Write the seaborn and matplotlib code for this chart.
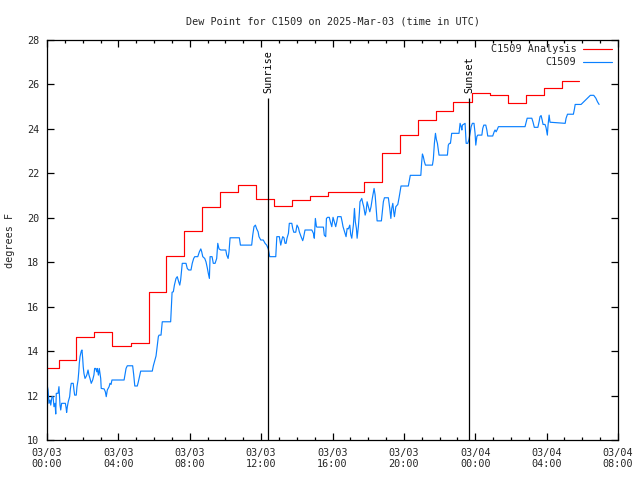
import matplotlib
matplotlib.use("Agg")
import matplotlib.pyplot as plt
import seaborn as sns
import pandas as pd

# ---------------- data ----------------
title = "Dew Point for C1509 on 2025-Mar-03 (time in UTC)"
ylabel = "degrees F"
series_names = ["C1509 Analysis", "C1509"]

# hours since 03/03 00:00 UTC
red_hours = [0, 0.65, 1.65, 2.66, 3.67, 4.69, 5.7, 6.66, 7.67, 8.68, 9.7, 10.7, 11.7,
             12.72, 13.72, 14.74, 15.77, 16.77, 17.77, 18.76, 19.79, 20.78, 21.8, 22.77,
             23.8, 24.83, 25.86, 26.85, 27.86, 28.88, 29.84]
red_values = [13.23, 13.58, 14.62, 14.84, 14.23, 14.35, 16.64, 18.27, 19.39, 20.47, 21.15,
              21.47, 20.83, 20.53, 20.8, 20.98, 21.15, 21.15, 21.6, 22.9, 23.72, 24.39,
              24.79, 25.2, 25.6, 25.51, 25.15, 25.51, 25.84, 26.17, 26.17]

blue_hours = [0.00, 0.06, 0.11, 0.17, 0.21, 0.28, 0.34, 0.39, 0.45, 0.49, 0.52, 0.62, 0.67,
              0.73, 0.77, 0.82, 1.03, 1.07, 1.10, 1.14, 1.19, 1.27, 1.31, 1.36, 1.47, 1.51,
              1.55, 1.64, 1.68, 1.74, 1.78, 1.81, 1.85, 1.89, 1.92, 1.96, 2.00, 2.03, 2.07,
              2.13, 2.19, 2.24, 2.30, 2.35, 2.41, 2.48, 2.56, 2.63, 2.67, 2.73, 2.79, 2.82,
              2.88, 2.93, 3.01, 3.04, 3.20, 3.27, 3.32, 3.38, 3.48, 3.53, 3.59, 3.64, 4.32,
              4.37, 4.43, 4.50, 4.80, 4.86, 4.92, 5.06, 5.12, 5.20, 5.25, 5.90, 5.96, 6.05,
              6.11, 6.18, 6.24, 6.28, 6.39, 6.46, 6.93, 6.97, 7.01, 7.08, 7.14, 7.23, 7.30,
              7.38, 7.44, 7.49, 7.55, 7.58, 7.79, 7.86, 7.94, 8.07, 8.14, 8.22, 8.28, 8.45,
              8.54, 8.62, 8.67, 8.73, 8.84, 8.91, 8.99, 9.04, 9.10, 9.14, 9.25, 9.32, 9.42,
              9.51, 9.57, 9.64, 9.74, 10.02, 10.07, 10.15, 10.20, 10.26, 10.78, 10.84, 11.47,
              11.53, 11.60, 11.68, 11.75, 11.83, 11.88, 11.98, 12.12, 12.22, 12.31, 12.40,
              12.48, 12.82, 12.88, 13.02, 13.10, 13.16, 13.21, 13.28, 13.34, 13.40, 13.45,
              13.53, 13.58, 13.72, 13.77, 13.83, 13.94, 14.01, 14.09, 14.14, 14.24, 14.33,
              14.37, 14.46, 14.84, 14.93, 14.98, 15.04, 15.10, 15.13, 15.49, 15.54, 15.62,
              15.66, 15.73, 15.82, 15.88, 15.96, 16.03, 16.10, 16.18, 16.24, 16.29, 16.48,
              16.54, 16.59, 16.70, 16.76, 16.82, 16.89, 16.97, 17.02, 17.08, 17.17, 17.23,
              17.28, 17.34, 17.38, 17.45, 17.51, 17.54, 17.64, 17.70, 17.75, 17.83, 17.88,
              17.94, 18.01, 18.09, 18.16, 18.23, 18.33, 18.39, 18.44, 18.50, 18.74, 18.79,
              18.85, 18.91, 19.13, 19.21, 19.27, 19.32, 19.38, 19.43, 19.47, 19.55, 19.66,
              19.73, 19.79, 19.84, 20.25, 20.31, 20.36, 20.95, 21.00, 21.04, 21.09, 21.15,
              21.21, 21.60, 21.65, 21.71, 21.77, 21.82, 21.88, 21.93, 21.97, 22.44, 22.49,
              22.55, 22.61, 22.68, 23.09, 23.15, 23.21, 23.25, 23.28, 23.43, 23.49, 23.58,
              23.65, 23.71, 23.77, 23.84, 23.93, 23.99, 24.03, 24.09, 24.14, 24.37, 24.42,
              24.48, 24.59, 24.65, 24.70, 24.98, 25.06, 25.11, 25.17, 25.22, 25.30, 26.79,
              26.85, 26.91, 27.17, 27.24, 27.31, 27.51, 27.58, 27.63, 27.69, 27.75, 27.80,
              27.91, 27.97, 28.04, 28.08, 28.14, 28.19, 29.04, 29.09, 29.17, 29.50, 29.56,
              29.60, 29.93, 30.12, 30.34, 30.45, 30.64, 30.76, 30.85, 30.94]
blue_values = [12.5, 12.25, 11.65, 11.8, 11.57, 11.95, 11.95, 11.5, 11.65, 11.17, 12.1, 12.1, 12.4,
               11.57, 11.35, 11.65, 11.65, 11.45, 11.24, 11.5, 11.72, 11.95, 12.3, 12.55, 12.55, 12.25,
               12.02, 12.02, 12.4, 12.7, 13.07, 13.45, 13.75, 13.9, 14.0, 14.05, 13.67, 13.3, 13.0,
               12.77, 12.85, 12.95, 13.15, 12.93, 12.77, 12.55, 12.7, 12.93, 13.22, 13.22, 13.07, 13.22,
               12.92, 13.22, 12.77, 12.32, 12.3, 12.17, 11.95, 12.25, 12.4, 12.55, 12.5, 12.7, 12.7,
               12.93, 13.22, 13.34, 13.34, 12.93, 12.43, 12.43, 12.62, 12.93, 13.1, 13.1, 13.34, 13.6,
               13.78, 14.27, 14.65, 14.72, 14.72, 15.32, 15.32, 16.0, 16.65, 16.67, 16.97, 17.27, 17.35,
               17.12, 16.97, 17.2, 17.72, 17.95, 17.95, 17.72, 17.65, 17.65, 17.95, 18.17, 18.25, 18.25,
               18.47, 18.6, 18.47, 18.25, 18.17, 18.02, 17.72, 17.5, 17.27, 18.25, 18.25, 17.95, 17.95,
               18.17, 18.85, 18.6, 18.55, 18.55, 18.33, 18.17, 18.47, 19.1, 19.1, 18.77, 18.77,
               19.22, 19.6, 19.67, 19.5, 19.37, 19.15, 19.0, 19.0, 18.85, 18.77, 18.6,
               18.25, 18.25, 19.15, 19.15, 18.77, 19.0, 19.15, 19.1, 18.85, 18.85, 19.08,
               19.3, 19.75, 19.75, 19.52, 19.35, 19.35, 19.67, 19.55, 19.37, 19.15, 18.97,
               19.08, 19.45, 19.45, 19.3, 19.08, 19.97, 19.6, 19.58, 19.58, 19.22, 19.15,
               19.97, 20.02, 20.02, 19.82, 19.6, 20.02, 19.82, 19.6, 19.82, 20.05, 20.05,
               19.82, 19.6, 19.3, 19.15, 19.52, 19.5, 19.67, 19.25, 19.08, 19.67, 20.42,
               19.82, 19.52, 19.08, 19.6, 20.27, 20.72, 20.87, 20.65, 20.5, 20.12, 20.27,
               20.72, 20.5, 20.27, 20.5, 20.87, 21.32, 21.02, 20.5, 19.86, 19.86, 20.27,
               20.72, 20.9, 20.9, 20.42, 19.97, 20.42, 20.65, 20.27, 20.05, 20.5, 20.6,
               20.9, 21.2, 21.43, 21.43, 21.7, 21.91, 21.91, 22.52, 22.87, 22.75, 22.52,
               22.37, 22.37, 22.63, 23.35, 23.8, 23.53, 23.35, 23.05, 22.82, 22.82, 23.27,
               23.35, 23.35, 23.8, 23.8, 24.25, 24.1, 23.95, 24.17, 24.25, 23.35, 23.35,
               23.53, 23.8, 24.1, 24.25, 24.25, 23.8, 23.27, 23.65, 23.72, 23.72, 24.02,
               24.17, 24.17, 23.95, 23.68, 23.68, 23.87, 23.95, 23.87, 23.95, 24.1, 24.1,
               24.3, 24.48, 24.48, 24.3, 24.07, 24.07, 24.33, 24.55, 24.6, 24.4, 24.2,
               24.2, 24.05, 23.72, 24.17, 24.62, 24.3, 24.25, 24.48, 24.66, 24.66, 24.9,
               25.1, 25.1, 25.25, 25.43, 25.51, 25.51, 25.38, 25.22, 25.1]

event_hours = [12.39, 23.65]
event_labels = ["Sunrise", "Sunset"]
event_line_top = 25.39
event_text_base = 25.6

tick_hours = [0, 4, 8, 12, 16, 20, 24, 28, 32]
tick_labels = ["03/03\n00:00", "03/03\n04:00", "03/03\n08:00", "03/03\n12:00",
               "03/03\n16:00", "03/03\n20:00", "03/04\n00:00", "03/04\n04:00", "03/04\n08:00"]
y_ticks = [10, 12, 14, 16, 18, 20, 22, 24, 26, 28]

red_df = pd.DataFrame({"hour": red_hours, "value": red_values})
blue_df = pd.DataFrame({"hour": blue_hours, "value": blue_values})

# ---------------- style ----------------
sns.set_style("ticks")
plt.rcParams["font.family"] = ["DejaVu Sans Mono", "DejaVu Sans"]
FS = 7.3

fig = plt.figure(figsize=(6.4, 4.8), dpi=100)
ax = fig.add_axes([47 / 640, 40 / 480, (618 - 47) / 640, 400 / 480])

sns.lineplot(data=red_df, x="hour", y="value", ax=ax, color="#ff0000", lw=0.85,
             drawstyle="steps-post", estimator=None, sort=True, label=series_names[0])
sns.lineplot(data=blue_df, x="hour", y="value", ax=ax, color="#0a80ff", lw=0.85,
             estimator=None, sort=True, label=series_names[1])

for h, lab in zip(event_hours, event_labels):
    ax.vlines(h, 10, event_line_top, color="black", lw=0.9)
    ax.text(h, event_text_base, lab, rotation=90, ha="center", va="bottom",
            fontsize=FS, color="black")

ax.set_xlim(0, 32)
ax.set_ylim(10, 28)
ax.set_xticks(tick_hours)
ax.set_xticklabels(tick_labels, fontsize=FS)
ax.set_xticks(range(0, 33), minor=True)
ax.set_yticks(y_ticks)
ax.set_yticklabels([str(v) for v in y_ticks], fontsize=FS)
ax.tick_params(axis="both", which="major", direction="in", top=True, right=True,
               length=5, width=0.9, color="black", pad=5.5)
ax.tick_params(axis="x", which="minor", direction="in", top=True, bottom=True,
               length=2.5, width=0.9, color="black")
ax.set_xlabel("")
ax.set_ylabel(ylabel, fontsize=FS, labelpad=9)
ax.set_title(title, fontsize=FS, pad=11)
for s in ax.spines.values():
    s.set_visible(True)
    s.set_color("black")
    s.set_linewidth(0.9)
ax.grid(False)

leg = ax.legend(loc="upper right", frameon=False, markerfirst=False, fontsize=FS,
                handlelength=2.9, handletextpad=0.6, borderaxespad=0.2,
                labelspacing=0.3, bbox_to_anchor=(1.0, 1.005))
for t in leg.get_texts():
    t.set_ha("right")

fig.savefig("out.png", dpi=100)
